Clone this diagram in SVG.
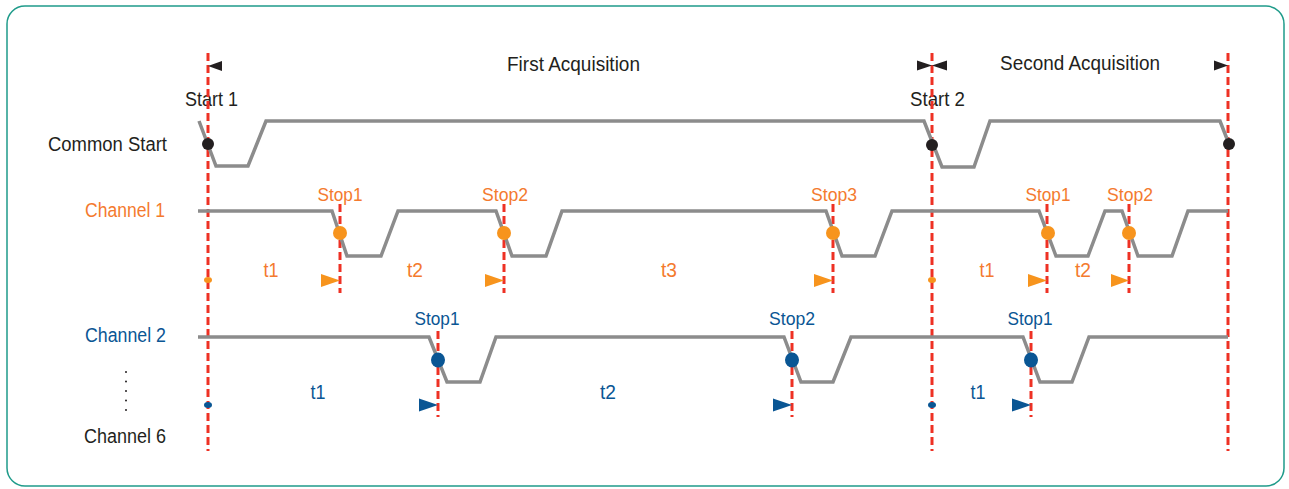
<svg xmlns="http://www.w3.org/2000/svg" width="1289" height="489" viewBox="0 0 1289 489">
<style>
.t{font-family:"Liberation Sans",Arial,sans-serif;font-size:19.5px}
.dk{fill:#231f20}
.or{fill:#f47a2e}
.bl{fill:#0a5694}
.st{font-size:19px;text-anchor:middle}
.ti{font-size:19.5px;text-anchor:middle}
.wave{fill:none;stroke:#8c8c8c;stroke-width:3.5;stroke-linejoin:miter}
.dash{stroke:#ee3124;stroke-width:3;stroke-dasharray:8 4;fill:none}
.oa{fill:#f7941d}
.ba{fill:#0a5694}
</style>
<rect x="7" y="6" width="1277" height="480" rx="18" ry="18" fill="#ffffff" stroke="#1f9b8a" stroke-width="1.5"/>

<g id="labels">
<text class="t dk" x="48" y="151" textLength="119" lengthAdjust="spacingAndGlyphs">Common Start</text>
<text class="t or" x="85" y="217" textLength="80" lengthAdjust="spacingAndGlyphs">Channel 1</text>
<text class="t bl" x="85" y="342" textLength="81" lengthAdjust="spacingAndGlyphs">Channel 2</text>
<text class="t dk" x="84" y="443" textLength="82" lengthAdjust="spacingAndGlyphs">Channel 6</text>
<g class="dk">
<circle cx="126" cy="372" r="1"/><circle cx="126" cy="381.5" r="1"/><circle cx="126" cy="391" r="1"/><circle cx="126" cy="400.5" r="1"/><circle cx="126" cy="410" r="1"/>
</g>
<text class="t dk" x="507" y="71" textLength="133" lengthAdjust="spacingAndGlyphs">First Acquisition</text>
<text class="t dk" x="1000" y="70" textLength="160" lengthAdjust="spacingAndGlyphs">Second Acquisition</text>
<text class="t dk" x="185" y="106" textLength="53" lengthAdjust="spacingAndGlyphs">Start 1</text>
<text class="t dk" x="910" y="106" textLength="55" lengthAdjust="spacingAndGlyphs">Start 2</text>
</g>

<g id="connectors">
<line class="dash" x1="208" y1="53" x2="208" y2="451"/>
<line class="dash" x1="932" y1="53" x2="932" y2="451"/>
<line class="dash" x1="1228" y1="53" x2="1228" y2="451"/>
<line class="dash" x1="340" y1="204" x2="340" y2="293"/>
<line class="dash" x1="504" y1="204" x2="504" y2="293"/>
<line class="dash" x1="833" y1="204" x2="833" y2="293"/>
<line class="dash" x1="1047" y1="204" x2="1047" y2="293"/>
<line class="dash" x1="1129" y1="204" x2="1129" y2="293"/>
<line class="dash" x1="438" y1="331" x2="438" y2="417"/>
<line class="dash" x1="792" y1="331" x2="792" y2="417"/>
<line class="dash" x1="1031" y1="331" x2="1031" y2="417"/>
<g class="dk">
<polygon points="208,66 222,61 222,71"/>
<polygon points="932,65.5 917,60.5 917,70.5"/>
<polygon points="932,65.5 947,60.5 947,70.5"/>
<polygon points="1228,65.5 1214,60.5 1214,70.5"/>
</g>
</g>

<g id="common-start">
<polyline class="wave" points="199,121 216,166 248,166 266,121 924,121 942,167 974,167 990,121 1220,121 1229,144"/>
<circle cx="208" cy="144" r="6" fill="#231f20"/>
<circle cx="932" cy="145" r="6" fill="#231f20"/>
<circle cx="1229" cy="144" r="6" fill="#231f20"/>
</g>

<g id="channel-1">
<polyline class="wave" points="198,211 332,211 347,256 381,256 398,211 496,211 512,256 546,256 562,211 826,211 842,256 875,256 892,211 1039,211 1056,256 1088,256 1105,211 1122,211 1138,256 1172,256 1188,211 1228,211"/>
<g class="oa">
<circle cx="340" cy="233" r="7"/>
<circle cx="504" cy="233" r="7"/>
<circle cx="833" cy="233" r="7"/>
<circle cx="1048" cy="233" r="7"/>
<circle cx="1129" cy="233" r="7"/>
<ellipse cx="208" cy="280" rx="4" ry="3"/>
<ellipse cx="932" cy="280" rx="4" ry="3"/>
<polygon points="321,274 321,287 340,280.5"/>
<polygon points="485,274 485,287 504,280.5"/>
<polygon points="814,274 814,287 833,280.5"/>
<polygon points="1028,274 1028,287 1047,280.5"/>
<polygon points="1111,274 1111,287 1129,280.5"/>
</g>
<g class="t or">
<text class="st" x="340" y="201" textLength="45" lengthAdjust="spacingAndGlyphs">Stop1</text>
<text class="st" x="505" y="201" textLength="46" lengthAdjust="spacingAndGlyphs">Stop2</text>
<text class="st" x="834" y="201" textLength="46" lengthAdjust="spacingAndGlyphs">Stop3</text>
<text class="st" x="1048" y="201" textLength="45" lengthAdjust="spacingAndGlyphs">Stop1</text>
<text class="st" x="1130" y="201" textLength="46" lengthAdjust="spacingAndGlyphs">Stop2</text>
<text class="ti" x="271" y="277" textLength="15" lengthAdjust="spacingAndGlyphs">t1</text>
<text class="ti" x="415" y="277" textLength="16" lengthAdjust="spacingAndGlyphs">t2</text>
<text class="ti" x="669" y="277" textLength="16" lengthAdjust="spacingAndGlyphs">t3</text>
<text class="ti" x="987" y="277" textLength="15" lengthAdjust="spacingAndGlyphs">t1</text>
<text class="ti" x="1083" y="277" textLength="16" lengthAdjust="spacingAndGlyphs">t2</text>
</g>
</g>

<g id="channel-2">
<polyline class="wave" points="198,337 429,337 447,382 480,382 496,337 784,337 801,382 833,382 851,337 1023,337 1040,382 1072,382 1089,337 1228,337"/>
<g class="ba">
<ellipse cx="438" cy="360" rx="7" ry="7.5"/>
<ellipse cx="792" cy="360" rx="7" ry="7.5"/>
<ellipse cx="1031" cy="360" rx="7" ry="7.5"/>
<ellipse cx="208" cy="405" rx="4" ry="3"/>
<ellipse cx="932" cy="405" rx="4" ry="3"/>
<polygon points="419,398.5 419,411.5 438,405"/>
<polygon points="773,398.5 773,411.5 792,405"/>
<polygon points="1012,398.5 1012,411.5 1031,405"/>
</g>
<g class="t bl">
<text class="st" x="437" y="325" textLength="45" lengthAdjust="spacingAndGlyphs">Stop1</text>
<text class="st" x="792" y="325" textLength="46" lengthAdjust="spacingAndGlyphs">Stop2</text>
<text class="st" x="1030" y="325" textLength="45" lengthAdjust="spacingAndGlyphs">Stop1</text>
<text class="ti" x="318" y="399" textLength="15" lengthAdjust="spacingAndGlyphs">t1</text>
<text class="ti" x="608" y="399" textLength="16" lengthAdjust="spacingAndGlyphs">t2</text>
<text class="ti" x="978" y="399" textLength="15" lengthAdjust="spacingAndGlyphs">t1</text>
</g>
</g>
</svg>
